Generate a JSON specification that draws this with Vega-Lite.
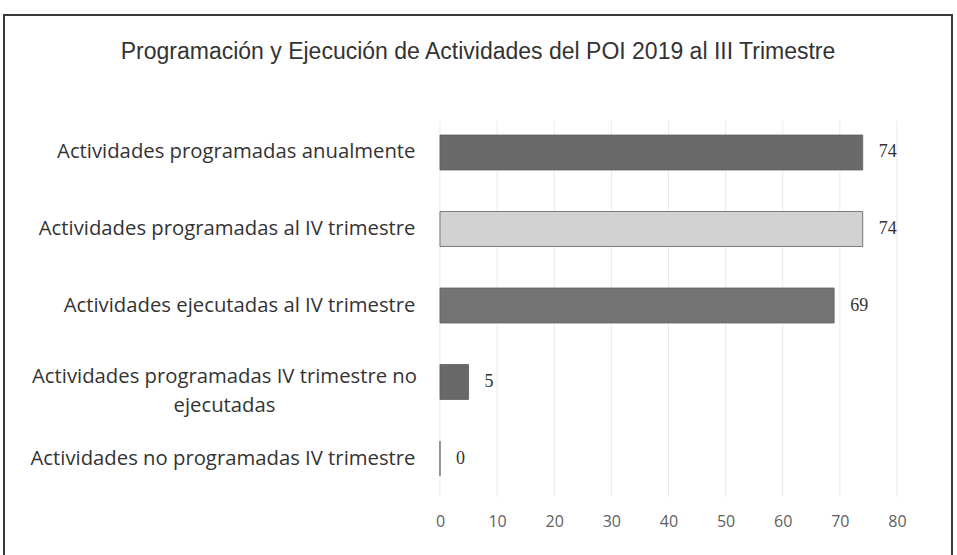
{
  "$schema": "https://vega.github.io/schema/vega-lite/v6.json",
  "width": 948,
  "height": 545,
  "autosize": {"type": "none"},
  "padding": {"left": 4, "top": 15, "right": 5, "bottom": 0},
  "background": "white",
  "config": {"view": {"stroke": "#3a3a3a", "strokeWidth": 2}},
  "title": {
    "text": "Programación y Ejecución de Actividades del POI 2019 al III  Trimestre",
    "anchor": "middle",
    "frame": "group",
    "offset": 0,
    "baseline": "middle",
    "dy": 60,
    "font": "Liberation Sans",
    "fontSize": 23,
    "fontWeight": "normal",
    "color": "#333333"
  },
  "datasets": {
    "barras": [
      {"categoria": "Actividades programadas anualmente", "valor": 74},
      {"categoria": "Actividades programadas al IV trimestre", "valor": 74},
      {"categoria": "Actividades ejecutadas al IV trimestre", "valor": 69},
      {"categoria": "Actividades programadas IV trimestre no ejecutadas", "valor": 5},
      {"categoria": "Actividades no programadas IV trimestre", "valor": 0}
    ],
    "rejilla": [
      {"valor": 0}, {"valor": 10}, {"valor": 20}, {"valor": 30}, {"valor": 40},
      {"valor": 50}, {"valor": 60}, {"valor": 70}, {"valor": 80}
    ]
  },
  "layer": [
    {
      "data": {"name": "rejilla"},
      "mark": {"type": "rule", "color": "#ebebeb", "strokeWidth": 1},
      "encoding": {
        "x": {"field": "valor", "type": "quantitative"},
        "y": {"datum": "Actividades programadas anualmente", "type": "nominal", "bandPosition": -0.4},
        "y2": {"datum": "Actividades no programadas IV trimestre", "bandPosition": 1.6}
      }
    },
    {
      "data": {"name": "barras"},
      "mark": {"type": "bar", "stroke": "#5e5e5e", "strokeWidth": 0.8},
      "encoding": {
        "y": {
          "field": "categoria",
          "type": "nominal",
          "sort": null,
          "scale": {
            "domain": [
              "Actividades programadas anualmente",
              "Actividades programadas al IV trimestre",
              "Actividades ejecutadas al IV trimestre",
              "Actividades programadas IV trimestre no ejecutadas",
              "Actividades no programadas IV trimestre"
            ],
            "range": [120, 461],
            "paddingInner": 0.5425,
            "paddingOuter": 0
          },
          "axis": {
            "orient": "left",
            "offset": -436,
            "title": null,
            "domain": false,
            "ticks": false,
            "labelFont": "Open Sans",
            "labelFontSize": 20.3,
            "labelColor": "#333333",
            "labelLimit": 500,
            "labelLineHeight": 29,
            "labelExpr": "datum.value == 'Actividades programadas IV trimestre no ejecutadas' ? ['Actividades programadas IV trimestre no', 'ejecutadas'] : datum.value",
            "labelAlign": {"condition": {"test": "datum.value == 'Actividades programadas IV trimestre no ejecutadas'", "value": "center"}, "value": "right"},
            "labelPadding": {"condition": {"test": "datum.value == 'Actividades programadas IV trimestre no ejecutadas'", "value": 216}, "value": 25},
            "labelOffset": {"condition": {"test": "datum.value == 'Actividades programadas IV trimestre no ejecutadas'", "value": -5}, "value": 0}
          }
        },
        "x": {
          "field": "valor",
          "type": "quantitative",
          "scale": {"domain": [-76.32, 89.63], "nice": false, "zero": false},
          "axis": {
            "orient": "bottom",
            "offset": -55,
            "title": null,
            "values": [0, 10, 20, 30, 40, 50, 60, 70, 80],
            "domain": false,
            "ticks": false,
            "grid": false,
            "labelPadding": 8,
            "labelFont": "Open Sans",
            "labelFontSize": 16,
            "labelColor": "#606060"
          }
        },
        "x2": {"datum": 0},
        "color": {
          "field": "categoria",
          "type": "nominal",
          "sort": null,
          "legend": null,
          "scale": {
            "domain": [
              "Actividades programadas anualmente",
              "Actividades programadas al IV trimestre",
              "Actividades ejecutadas al IV trimestre",
              "Actividades programadas IV trimestre no ejecutadas",
              "Actividades no programadas IV trimestre"
            ],
            "range": ["#6a6a6a", "#d2d2d2", "#747474", "#686868", "#8c8c8c"]
          }
        }
      }
    },
    {
      "data": {"name": "barras"},
      "mark": {"type": "text", "align": "left", "baseline": "middle", "dx": 16, "font": "Liberation Serif", "fontSize": 18, "color": "#333333"},
      "encoding": {
        "y": {"field": "categoria", "type": "nominal", "sort": null},
        "x": {"field": "valor", "type": "quantitative"},
        "text": {"field": "valor", "type": "quantitative"}
      }
    }
  ]
}
